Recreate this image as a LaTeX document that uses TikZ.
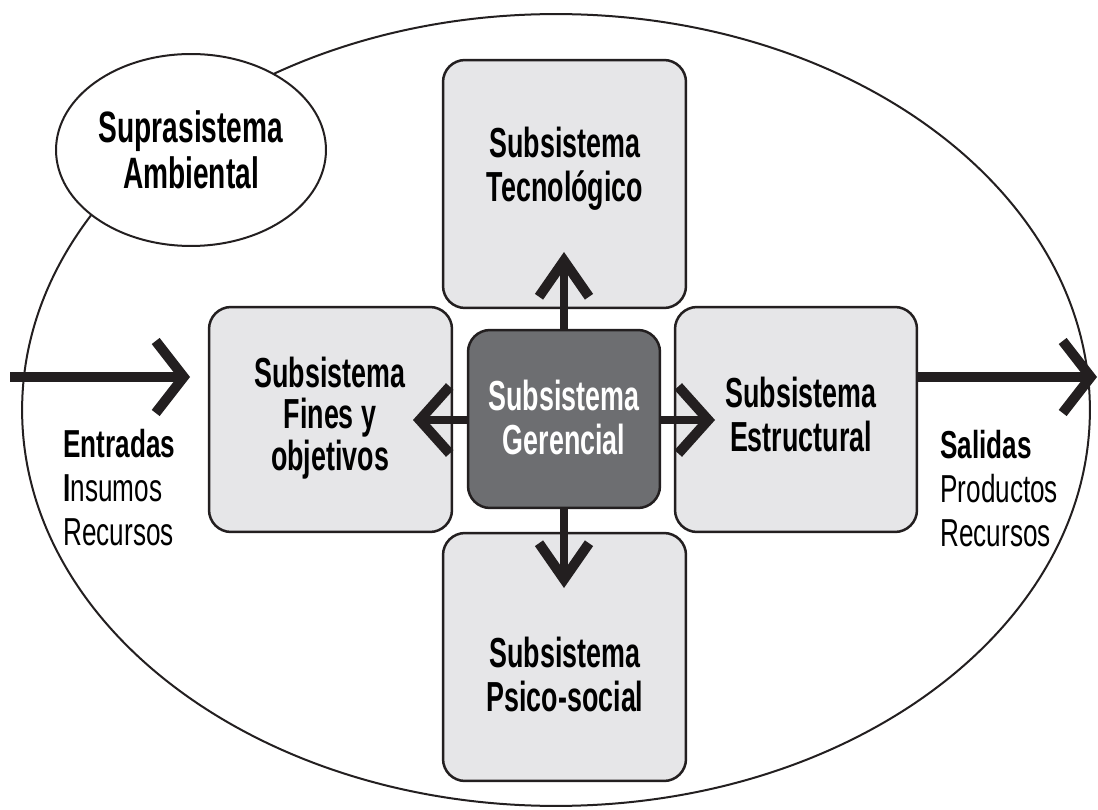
\documentclass[tikz,border=0pt]{standalone}
\usepackage{fontspec}
\newfontfamily\cf[FakeStretch=0.64]{Liberation Sans}
\newfontfamily\cfs[FakeStretch=0.67]{Liberation Sans}
\usetikzlibrary{arrows.meta,shapes.geometric}
\definecolor{boxgray}{HTML}{E6E6E8}
\definecolor{dgray}{HTML}{6D6E71}
\definecolor{ink}{HTML}{231F20}
\begin{document}
\begin{tikzpicture}[x=0.02cm,y=-0.02cm,
  sbox/.style={draw=ink, line width=0.05cm, fill=boxgray, rounded corners=0.44cm, inner sep=0pt},
  wbox/.style={sbox, minimum width=4.86cm},
  btxt/.style={inner sep=0pt, align=center, anchor=north, font=\fontsize{23.9}{25}\cf\bfseries},
  stxt/.style={inner sep=0pt, align=left, anchor=north west, font=\fontsize{22.2}{25}\cfs},
  vtip/.style={-{Straight Barb[length=0.72cm,width=1.0cm,line width=0.2cm]}},
  htip/.style={-{Straight Barb[length=0.6cm,width=1.34cm,line width=0.2cm]}},
  iotip/.style={-{Straight Barb[length=0.56cm,width=1.44cm,line width=0.2cm]}},
  shaft/.style={draw=ink, line width=0.16cm},
  ioshaft/.style={draw=ink, line width=0.2cm}]
\useasboundingbox (0,0) rectangle (1098,810);
\fill[white] (0,0) rectangle (1098,810);
% environment
\node[ellipse, draw=ink, line width=0.04cm, minimum width=21.36cm, minimum height=15.84cm, inner sep=0pt] (env) at (556,410) {};
\node[ellipse, draw=ink, line width=0.04cm, fill=white, minimum width=5.4cm, minimum height=3.84cm, inner sep=0pt, align=center, font=\fontsize{25}{26.2}\cf\bfseries] (supra) at (191,150) {Suprasistema\\Ambiental};
% boxes
\node[wbox, minimum height=4.96cm] (tec) at (564.5,184) {};
\node[wbox, minimum height=4.96cm] (psi) at (564.5,657) {};
\node[wbox, minimum height=4.5cm] (fin) at (330.5,419.5) {};
\node[sbox, minimum width=4.84cm, minimum height=4.5cm] (est) at (796,419.5) {};
\node[sbox, fill=dgray, minimum width=3.84cm, minimum height=3.56cm] (ger) at (564,419) {};
% texts
\node[btxt] (ttec) at (565,127) {Subsistema\\Tecnológico};
\node[btxt] (tpsi) at (565,637) {Subsistema\\Psico-social};
\node[btxt, font=\fontsize{23.9}{23.4}\cf\bfseries] (tfin) at (330,357) {Subsistema\\Fines y\\objetivos};
\node[btxt] (test) at (801,377) {Subsistema\\Estructural};
\node[btxt, text=white] (tger) at (564,380) {Subsistema\\Gerencial};
\node[stxt] (tin) at (63,429) {\bfseries Entradas\\{\bfseries I}nsumos\\Recursos};
\node[stxt] (tout) at (940,430) {\bfseries Salidas\\Productos\\Recursos};
% arrow ends
\coordinate (tipU) at (564,252);
\coordinate (tipD) at (564,588);
\coordinate (tipL) at (413,420);
\coordinate (tipR) at (715,420);
\coordinate (instart) at (10,377);
\coordinate (inend) at (190,377);
\coordinate (outend) at (1097,377);
% arrows
\draw[shaft, vtip] (ger.north) -- (tipU);
\draw[shaft, vtip] (ger.south) -- (tipD);
\draw[shaft, htip] (ger.west |- tipL) -- (tipL);
\draw[shaft, htip] (ger.east |- tipR) -- (tipR);
\draw[ioshaft, iotip] (instart) -- (inend);
\draw[ioshaft, iotip] (est.east |- outend) -- (outend);
\end{tikzpicture}
\end{document}
